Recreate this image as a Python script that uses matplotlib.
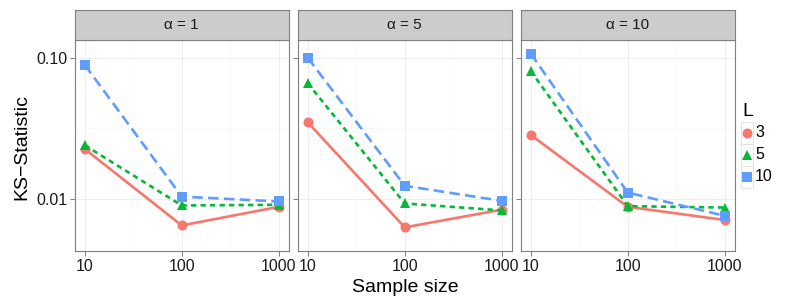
import matplotlib
matplotlib.use('Agg')
import matplotlib.pyplot as plt
from matplotlib.patches import Rectangle
from matplotlib.ticker import FixedLocator, NullFormatter

plt.rcParams['font.family'] = ['Liberation Sans', 'DejaVu Sans']

sample_sizes = [10, 100, 1000]
alphas = [1, 5, 10]
levels = ['3', '5', '10']

# KS statistic per alpha panel, per L
ks_L3 = {1: [0.0226, 0.0065, 0.0088],
         5: [0.0349, 0.0063, 0.0084],
         10: [0.0284, 0.0088, 0.0071]}
ks_L5 = {1: [0.0240, 0.0090, 0.0091],
         5: [0.0660, 0.0093, 0.0083],
         10: [0.0805, 0.0089, 0.0087]}
ks_L10 = {1: [0.0890, 0.0104, 0.0096],
          5: [0.1000, 0.0124, 0.0097],
          10: [0.1070, 0.0111, 0.0076]}

series = [
    (ks_L3, '#F8766D', 'o', 7.2, (None, None)),
    (ks_L5, '#00BA38', '^', 7.8, (2.0, 1.6)),
    (ks_L10, '#619CFF', 's', 7.0, (4.0, 2.0)),
]

W, H = 789, 307
fig = plt.figure(figsize=(W / 100, H / 100), dpi=100)

left, pw, gap = 75, 213.5, 9.5
top_strip, strip_h, bottom = 10, 30, 251

grey_text = '#1a1a1a'
for i, a in enumerate(alphas):
    x0 = left + i * (pw + gap)
    ax = fig.add_axes([x0 / W, 1 - bottom / H, pw / W, (bottom - top_strip - strip_h) / H])
    ax.set_xscale('log')
    ax.set_yscale('log')
    ax.set_xlim(10 ** 0.9, 10 ** 3.1)
    ax.set_ylim(10 ** -2.368, 10 ** -0.875)

    ax.xaxis.set_major_locator(FixedLocator([10, 100, 1000]))
    ax.xaxis.set_minor_locator(FixedLocator([10 ** 1.5, 10 ** 2.5]))
    ax.yaxis.set_major_locator(FixedLocator([0.01, 0.1]))
    ax.yaxis.set_minor_locator(FixedLocator([10 ** -1.5]))
    ax.xaxis.set_minor_formatter(NullFormatter())
    ax.yaxis.set_minor_formatter(NullFormatter())
    ax.set_xticklabels(['10', '100', '1000'])
    if i == 0:
        ax.set_yticklabels(['0.01', '0.10'])
    else:
        ax.set_yticklabels([])
        ax.tick_params(axis='y', which='major', length=0)

    ax.grid(True, which='major', color='#ebebeb', lw=0.6)
    ax.grid(True, which='minor', color='#f7f7f7', lw=0.5)
    ax.set_axisbelow(True)
    ax.tick_params(which='major', length=3.5, width=0.7, color='#7f7f7f',
                   labelsize=11.5, labelcolor=grey_text, pad=2)
    ax.tick_params(which='minor', length=0)
    for sp in ax.spines.values():
        sp.set_color('#7f7f7f')
        sp.set_linewidth(0.8)

    for data, col, mk, ms, dash in series:
        ln, = ax.plot(sample_sizes, data[a], color=col, lw=1.9, marker=mk,
                      ms=ms, mec=col, mew=0, solid_capstyle='butt',
                      dash_capstyle='butt', clip_on=False, zorder=3)
        if dash[0] is not None:
            ln.set_dashes(dash)

    sax = fig.add_axes([x0 / W, 1 - (top_strip + strip_h) / H, pw / W, strip_h / H])
    sax.set_facecolor('#cccccc')
    sax.set_xticks([])
    sax.set_yticks([])
    for sp in sax.spines.values():
        sp.set_color('#7f7f7f')
        sp.set_linewidth(0.8)
    sax.text(0.5, 0.5, '\u03b1 = %d' % a, ha='center', va='center',
             fontsize=11, color=grey_text, transform=sax.transAxes)

fig.text(22 / W, 1 - 147 / H, 'KS\u2212Statistic', rotation=90, ha='center',
         va='center', fontsize=14, color='black')
fig.text(405 / W, 1 - 287 / H, 'Sample size', ha='center', va='center',
         fontsize=14, color='black')

# legend
fig.text(742 / W, 1 - 112 / H, 'L', ha='left', va='center', fontsize=14)
lax = fig.add_axes([0, 0, 1, 1])
lax.set_xlim(0, W)
lax.set_ylim(H, 0)
lax.axis('off')
for k, (lab, (data, col, mk, ms, dash)) in enumerate(zip(levels, series)):
    cy = 132.5 + k * 22
    lax.add_patch(Rectangle((741.5, cy - 11), 12, 22, fill=False,
                            ec='#e0e0e0', lw=0.6))
    lax.plot([747.5], [cy], marker=mk, ms=ms, color=col, mew=0)
    lax.text(755, cy, lab, ha='left', va='center', fontsize=11.5)

fig.savefig('out.png', dpi=100)
